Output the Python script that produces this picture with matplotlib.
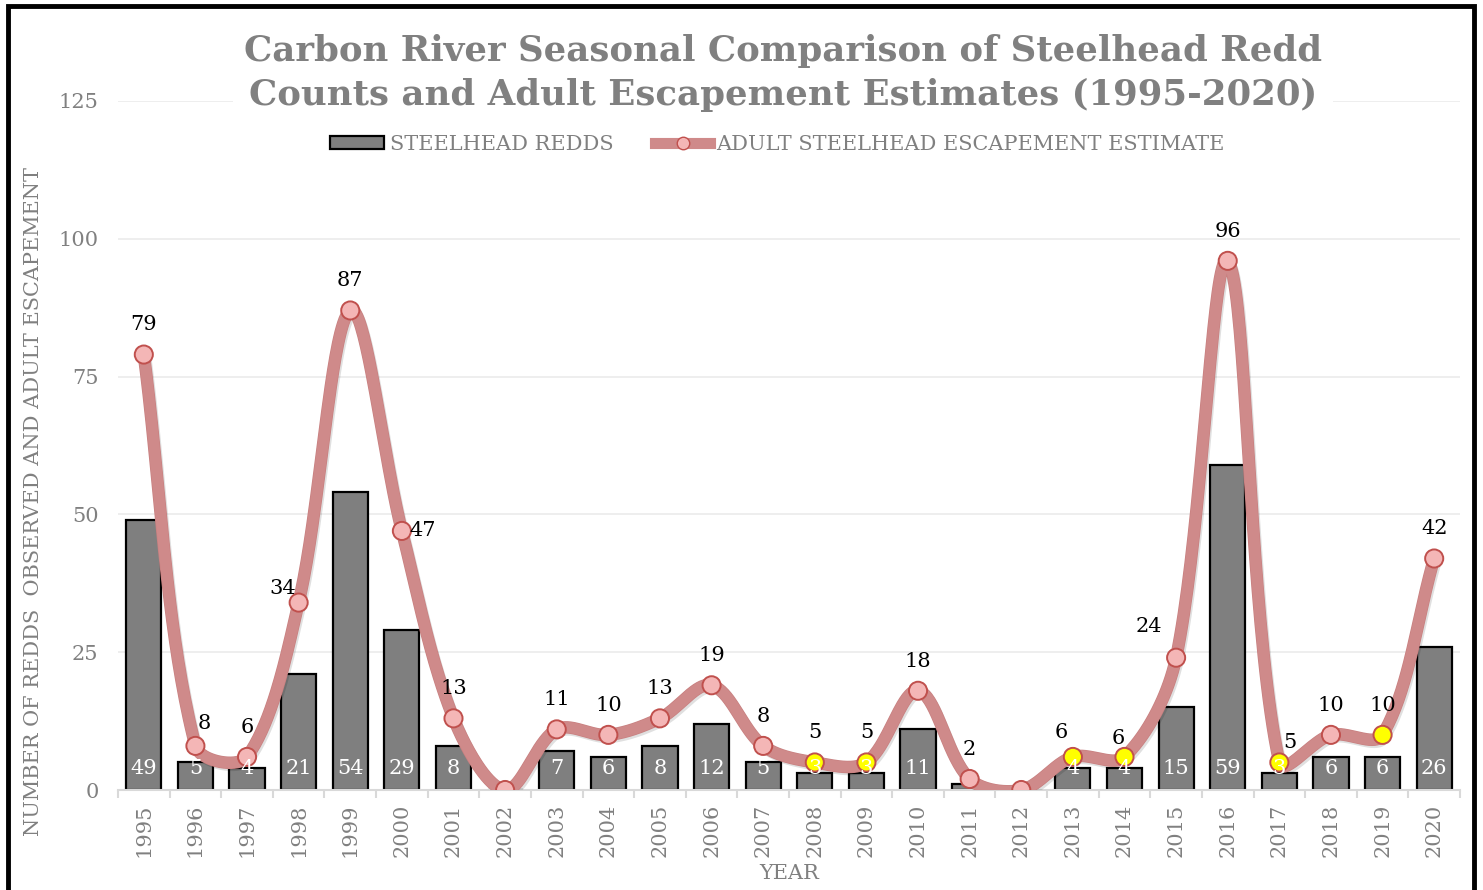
import numpy as np
import matplotlib
matplotlib.use("Agg")
import matplotlib.pyplot as plt
from matplotlib.lines import Line2D
from matplotlib.patches import Rectangle
import matplotlib.patheffects as pe

years = list(range(1995, 2021))
redds = [49, 5, 4, 21, 54, 29, 8, 0, 7, 6, 8, 12, 5, 3, 3, 11, 1, 0, 4, 4, 15, 59, 3, 6, 6, 26]
escapement = [79, 8, 6, 34, 87, 47, 13, 0, 11, 10, 13, 19, 8, 5, 5, 18, 2, 0, 6, 6, 24, 96, 5, 10, 10, 42]
yellow_years = [2008, 2009, 2013, 2014, 2017, 2019]
yticks = [0, 25, 50, 75, 100, 125]

plt.rcParams['font.family'] = ['DejaVu Serif']
GRAY = '#7f7f7f'
TXT = '#808080'
LINE = '#cf8a8a'

fig = plt.figure(figsize=(14.83, 8.9), dpi=100)
ax = fig.add_axes([118/1483, 1-790/890, (1460-118)/1483, (790-101)/890])

x = np.arange(len(years))
ax.bar(x, redds, width=0.68, color=GRAY, edgecolor='black', linewidth=1.6, zorder=2)

# Excel-like smoothing: cubic Bezier with control points scaled by screen-space segment lengths
def smooth(xs, ys, sx=51.6, sy=5.51, f=1/3, n=40):
    P = np.column_stack([np.asarray(xs, float) * sx, np.asarray(ys, float) * sy])
    m = len(P)
    cf, cb = [], []
    for i in range(m):
        p0 = P[max(i-1, 0)]; p1 = P[i]; p2 = P[min(i+1, m-1)]
        d01 = np.hypot(*(p1 - p0)); d12 = np.hypot(*(p2 - p1))
        tot = d01 + d12 if d01 + d12 > 0 else 1
        tang = p2 - p0
        cb.append(p1 - f * d01 / tot * tang)
        cf.append(p1 + f * d12 / tot * tang)
    out = []
    t = np.linspace(0, 1, n)[:, None]
    for i in range(m - 1):
        a, b, c, d = P[i], cf[i], cb[i+1], P[i+1]
        seg = (1-t)**3*a + 3*(1-t)**2*t*b + 3*(1-t)*t**2*c + t**3*d
        out.append(seg if i == 0 else seg[1:])
    out = np.vstack(out)
    return out[:, 0] / sx, out[:, 1] / sy

lx, ly = smooth(x, escapement)
ax.plot(lx, ly, color=LINE, lw=8, zorder=3, solid_capstyle='round',
        path_effects=[pe.SimpleLineShadow(offset=(1.5, -2), alpha=0.12),
                      pe.Stroke(linewidth=9, foreground='#c88080'), pe.Normal()])
cols = ['#ffff00' if y in yellow_years else '#f4b6b6' for y in years]
ax.scatter(x, escapement, s=170, c=cols, edgecolors='#c0504d', linewidths=1.4, zorder=4)

# data labels (offsets in axis units: dx, dy)
label_offset = {1996: (0.18, 4.0), 1998: (-0.3, 2.6), 2000: (0.4, 0.0), 2013: (-0.23, 4.5),
                2014: (-0.12, 3.3), 2015: (-0.52, 5.6), 2017: (0.2, 3.6)}
for i, (r, e) in enumerate(zip(redds, escapement)):
    if r > 1:
        ax.text(i, 2.1, str(r), ha='center', va='bottom', color='white', fontsize=15, zorder=5)
    if e > 0:
        dx, dy = label_offset.get(years[i], (0, 5.4))
        ax.text(i + dx, e + dy, str(e), ha='center', va='center', color='black', fontsize=15, zorder=5)

ax.set_xlim(-0.5, len(years) - 0.5)
ax.set_ylim(0, 125)
ax.set_yticks(yticks)
ax.set_yticklabels([str(v) for v in yticks], fontsize=15, color=TXT)
ax.set_xticks(x)
ax.set_xticklabels([str(y) for y in years], rotation=90, fontsize=15, color=TXT)
ax.tick_params(axis='x', length=0, pad=10)
ax.tick_params(axis='y', length=0, pad=14)
ax.set_xticks(np.arange(-0.5, len(years)), minor=True)
ax.tick_params(axis='x', which='minor', length=6, color='#d9d9d9', width=1.5)
ax.grid(axis='y', color='#ebebeb', lw=1.2, zorder=0)
ax.set_axisbelow(True)
for s in ['top', 'right', 'left']:
    ax.spines[s].set_visible(False)
ax.spines['bottom'].set_color('#d9d9d9')
ax.spines['bottom'].set_linewidth(1.5)

ax.set_xlabel('YEAR', fontsize=15, color=TXT, labelpad=5)
ax.set_ylabel('NUMBER OF REDDS  OBSERVED AND ADULT ESCAPEMENT', fontsize=15, color=TXT)
ax.yaxis.set_label_coords(-(118-43)/1342, (790-502)/689)

fig.text(783/1483, 1-73/890,
         'Carbon River Seasonal Comparison of Steelhead Redd\nCounts and Adult Escapement Estimates (1995-2020)',
         ha='center', va='center', fontsize=25.6, fontweight='bold', color=TXT, linespacing=1.38,
         bbox=dict(facecolor='white', edgecolor='none', pad=8), zorder=10)

handles = [Rectangle((0, 0), 1, 1, facecolor=GRAY, edgecolor='black', linewidth=1.6),
           Line2D([0], [0], color=LINE, lw=8, marker='o', markersize=9,
                  markerfacecolor='#f4b6b6', markeredgecolor='#c0504d')]
fig.legend(handles, ['STEELHEAD REDDS', 'ADULT STEELHEAD ESCAPEMENT ESTIMATE'],
           loc='center', bbox_to_anchor=(777/1483, 1-144/890), ncol=2, frameon=False,
           fontsize=15, labelcolor=TXT, handlelength=2.6, handletextpad=0.3, columnspacing=2.0,
           handleheight=0.6)

fig.patches.append(Rectangle((8/1483, -0.02), (1474-8)/1483, 0.02 + 1 - 6/890, transform=fig.transFigure,
                             fill=False, edgecolor='black', linewidth=3.5))

fig.savefig('out.png', dpi=100)
